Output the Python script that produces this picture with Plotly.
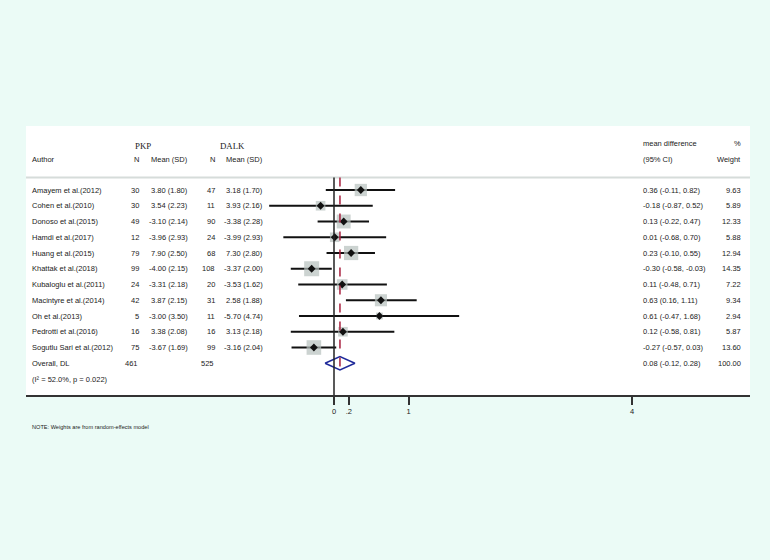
import plotly.graph_objects as go

studies = ["Amayem et al.(2012)", "Cohen et al.(2010)", "Donoso et al.(2015)", "Hamdi et al.(2017)",
           "Huang et al.(2015)", "Khattak et al.(2018)", "Kubaloglu et al.(2011)", "Macintyre et al.(2014)",
           "Oh et al.(2013)", "Pedrotti et al.(2016)", "Sogutlu Sari et al.(2012)"]
pkp_n = [30, 30, 49, 12, 79, 99, 24, 42, 5, 16, 75]
pkp_mean = [3.80, 3.54, -3.10, -3.96, 7.90, -4.00, -3.31, 3.87, -3.00, 3.38, -3.67]
pkp_sd = [1.80, 2.23, 2.14, 2.93, 2.50, 2.15, 2.18, 2.15, 3.50, 2.08, 1.69]
dalk_n = [47, 11, 90, 24, 68, 108, 20, 31, 11, 16, 99]
dalk_mean = [3.18, 3.93, -3.38, -3.99, 7.30, -3.37, -3.53, 2.58, -5.70, 3.13, -3.16]
dalk_sd = [1.70, 2.16, 2.28, 2.93, 2.80, 2.00, 1.62, 1.88, 4.74, 2.18, 2.04]
md = [0.36, -0.18, 0.13, 0.01, 0.23, -0.30, 0.11, 0.63, 0.61, 0.12, -0.27]
lo = [-0.11, -0.87, -0.22, -0.68, -0.10, -0.58, -0.48, 0.16, -0.47, -0.58, -0.57]
hi = [0.82, 0.52, 0.47, 0.70, 0.55, -0.03, 0.71, 1.11, 1.68, 0.81, 0.03]
weight = [9.63, 5.89, 12.33, 5.88, 12.94, 14.35, 7.22, 9.34, 2.94, 5.87, 13.60]
overall_label = "Overall, DL"
overall_n = [461, 525]
overall_md, overall_lo, overall_hi, overall_w = 0.08, -0.12, 0.28, 100.00
het_text = "(I\u00b2 = 52.0%, p = 0.022)"
tick_vals = [0, 0.2, 1, 4]
tick_text = ["0", ".2", "1", "4"]

# layout geometry (pixels)
W, H = 770, 560
L, R, T, B = 26, 20, 126, 165
PW = W - L - R
X0PX, UNIT = 334.0, 74.5
ROW0, ROWH = 190.0, 15.75
xr = [(L - X0PX) / UNIT, (W - R - X0PX) / UNIT]
yr = [(H - B - ROW0) / ROWH, (T - ROW0) / ROWH]

def px(p):
    return (p - L) / PW

def rowy(py):
    return (py - ROW0) / ROWH

rows = list(range(len(studies)))
orow = len(studies)
hrow = orow + 1

SANS = "Liberation Sans, Arial, sans-serif"
SERIF = "Liberation Serif, Times New Roman, serif"
TXT = "#222222"
FS = 7.5
BG = "#EBFBF6"

fig = go.Figure()

# CI lines
cx, cy = [], []
for i in rows:
    cx += [lo[i], hi[i], None]
    cy += [i, i, None]
fig.add_trace(go.Scatter(x=cx, y=cy, mode="lines", line=dict(color="#111111", width=2),
                         hoverinfo="skip", showlegend=False))
# weight boxes
fig.add_trace(go.Scatter(x=md, y=rows, mode="markers",
                         marker=dict(symbol="square", size=[3.96 * w ** 0.5 for w in weight],
                                     color="#B7C1BE", line=dict(width=0)),
                         hoverinfo="skip", showlegend=False))
# point estimates
fig.add_trace(go.Scatter(x=md, y=rows, mode="markers",
                         marker=dict(symbol="diamond", size=6, color="#111111"),
                         hoverinfo="skip", showlegend=False))
# overall diamond
dh = 0.42
fig.add_trace(go.Scatter(x=[overall_lo, overall_md, overall_hi, overall_md, overall_lo],
                         y=[orow, orow - dh, orow, orow + dh, orow], mode="lines",
                         line=dict(color="#1F2A9A", width=1.6), hoverinfo="skip", showlegend=False))

shapes = [
    dict(type="line", xref="paper", yref="y", x0=0, x1=1, y0=rowy(177.5), y1=rowy(177.5),
         line=dict(color="#D6DCDA", width=2)),
    dict(type="line", xref="x", yref="y", x0=0, x1=0, y0=rowy(177.5), y1=yr[0],
         line=dict(color="#222222", width=1.5)),
    dict(type="line", xref="x", yref="y", x0=overall_md, x1=overall_md, y0=rowy(177.5), y1=orow + 0.5,
         line=dict(color="#A8203E", width=1.5, dash="dash")),
]

ann = []
def A(text, xp, y, anchor="left", size=FS, family=SANS, yref="y"):
    ann.append(dict(text=text, x=px(xp), y=y, xref="paper", yref=yref, xanchor=anchor,
                    yanchor="middle", showarrow=False, font=dict(family=family, size=size, color=TXT)))

# headers
A("PKP", 133, rowy(146), size=8.8, family=SERIF)
A("DALK", 218, rowy(146), size=8.8, family=SERIF)
A("Author", 30, rowy(159))
A("N", 141, rowy(159), "right")
A("Mean (SD)", 190, rowy(159), "right")
A("N", 217, rowy(159), "right")
A("Mean (SD)", 265, rowy(159), "right")
A("mean difference", 641, rowy(143))
A("%", 743, rowy(143), "right")
A("(95% CI)", 641, rowy(159))
A("Weight", 743, rowy(159), "right")

for i in rows:
    A(studies[i], 30, i)
    A(str(pkp_n[i]), 141, i, "right")
    A(f"{pkp_mean[i]:.2f} ({pkp_sd[i]:.2f})", 190, i, "right")
    A(str(dalk_n[i]), 217, i, "right")
    A(f"{dalk_mean[i]:.2f} ({dalk_sd[i]:.2f})", 265, i, "right")
    A(f"{md[i]:.2f} ({lo[i]:.2f}, {hi[i]:.2f})", 641, i)
    A(f"{weight[i]:.2f}", 743, i, "right")

A(overall_label, 30, orow)
A(str(overall_n[0]), 140, orow, "right")
A(str(overall_n[1]), 216, orow, "right")
A(f"{overall_md:.2f} ({overall_lo:.2f}, {overall_hi:.2f})", 641, orow)
A(f"{overall_w:.2f}", 743, orow, "right")
A(het_text, 30, hrow)

A("NOTE: Weights are from random-effects model", 30, 1 - (427 - T) / (H - T - B), size=5.6, yref="paper")

fig.update_layout(
    width=W, height=H, margin=dict(l=L, r=R, t=T, b=B),
    paper_bgcolor=BG, plot_bgcolor="#FFFFFF",
    shapes=shapes, annotations=ann, showlegend=False,
    xaxis=dict(range=xr, showgrid=False, zeroline=False, showline=True, linecolor="#333333",
               linewidth=2, ticks="outside", ticklen=8, tickwidth=2, tickcolor="#333333",
               tickvals=tick_vals, ticktext=tick_text,
               tickfont=dict(family=SANS, size=7.5, color=TXT), fixedrange=True),
    yaxis=dict(range=yr, showgrid=False, zeroline=False, showticklabels=False, showline=False,
               fixedrange=True),
)

fig.write_html("out.html", config={"displayModeBar": False},
               post_script="document.body.style.margin='0';document.body.style.padding='0';"
                           "document.body.style.background='" + BG + "';"
                           "document.documentElement.style.background='" + BG + "';")
